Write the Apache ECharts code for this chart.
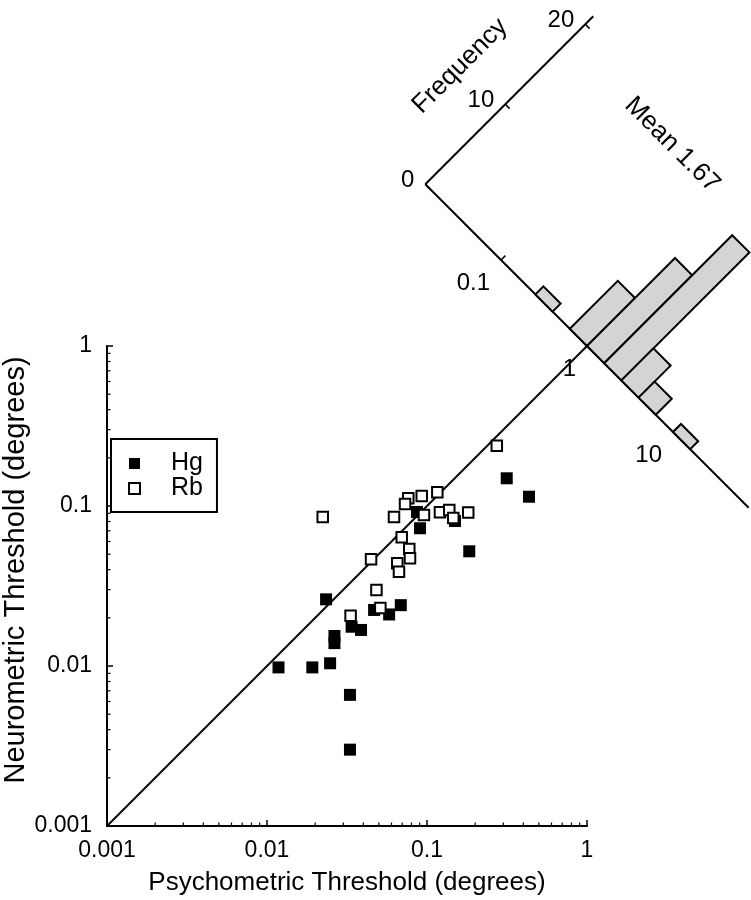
<!DOCTYPE html>
<html><head><meta charset="utf-8">
<script src="https://cdn.jsdelivr.net/npm/echarts@6/dist/echarts.min.js"></script>
<style>html,body{margin:0;padding:0;background:#fff}#c{width:751px;height:900px}</style>
</head><body><div id="c"></div>
<script>
// ---- data ----
const hgX = [0.315, 0.434, 0.0904, 0.1496, 0.1837, 0.0234, 0.0338, 0.0387, 0.0467, 0.058, 0.0686, 0.0264, 0.0264, 0.0118, 0.0192, 0.0248, 0.033, 0.033, 0.0866];
const hgY = [0.149, 0.1143, 0.0726, 0.0806, 0.0521, 0.0261, 0.0176, 0.0168, 0.0224, 0.021, 0.024, 0.0154, 0.0139, 0.0098, 0.0098, 0.0104, 0.0066, 0.003, 0.0918];
const rbX = [0.273, 0.116, 0.0927, 0.0764, 0.0729, 0.0622, 0.0957, 0.1205, 0.1378, 0.146, 0.181, 0.0223, 0.0695, 0.0775, 0.0783, 0.0652, 0.0668, 0.0447, 0.0483, 0.0511, 0.0333];
const rbY = [0.238, 0.122, 0.1155, 0.1117, 0.1029, 0.0853, 0.0879, 0.0914, 0.0944, 0.0841, 0.091, 0.0853, 0.0637, 0.0538, 0.0471, 0.0438, 0.0388, 0.0464, 0.0299, 0.023, 0.0206];
const unityLine = [0.001, 1];
const minorMultipliers = [2, 3, 4, 5, 6, 7, 8, 9];
const minorDecades = [0.001, 0.01, 0.1];
// histogram of log10(psychometric / neurometric) ratio
const histLogEdges = [-0.6, -0.4, -0.2, 0, 0.2, 0.4, 0.6, 0.8, 1.0, 1.2];
const histCounts = [1, 0, 6, 11, 16, 4, 2, 0, 1];
const histTickValues = [0.1, 1, 10];
const histTickLabels = ['0.1', '1', '10'];
const freqTickValues = [0, 10, 20];
const freqTickLabels = ['0', '10', '20'];
const histMeanText = 'Mean 1.67';

// ---- style / geometry ----
const FONT = '"Liberation Sans", Arial, Helvetica, sans-serif';
const H_SCALE = 0.5375;   // main-axis decades per decade of ratio
const F_SCALE = 0.05;     // main-axis decades per count
const H_RANGE = [-1.88, 1.88];
const F_MAX = 21;
function histData(r, c) {
  return [Math.pow(10, H_SCALE * r + F_SCALE * c), Math.pow(10, -H_SCALE * r + F_SCALE * c)];
}

const chart = echarts.init(document.getElementById('c'));
const zip = (a, b) => a.map((v, i) => [v, b[i]]);

const histBars = histCounts.map((c, i) => [histLogEdges[i], histLogEdges[i + 1], c]).filter(d => d[2] > 0);

chart.setOption({
  animation: false,
  backgroundColor: '#fff',
  textStyle: { fontFamily: FONT, color: '#000' },
  grid: { left: 107, right: 164, top: 346, bottom: 74, containLabel: false, outerBoundsMode: 'none' },
  xAxis: {
    type: 'log', logBase: 10, min: 0.001, max: 1,
    name: 'Psychometric Threshold (degrees)', nameLocation: 'middle', nameGap: 44,
    nameTextStyle: { fontSize: 26, fontFamily: FONT, color: '#000' },
    axisLine: { lineStyle: { color: '#000', width: 2 } },
    axisTick: { inside: true, length: 6, lineStyle: { color: '#000', width: 1.5 } },
    axisLabel: { fontSize: 23, fontFamily: FONT, color: '#000', margin: 13 },
    splitLine: { show: false }, minorTick: { show: false }
  },
  yAxis: {
    type: 'log', logBase: 10, min: 0.001, max: 1,
    name: 'Neurometric Threshold (degrees)', nameLocation: 'middle', nameGap: 77, nameMoveOverlap: false,
    nameTextStyle: { fontSize: 29, fontFamily: FONT, color: '#000', padding: [0, 0, 0, 32] },
    axisLine: { lineStyle: { color: '#000', width: 2 } },
    axisTick: { inside: true, length: 6, lineStyle: { color: '#000', width: 1.5 } },
    axisLabel: { fontSize: 23, fontFamily: FONT, color: '#000', margin: 15 },
    splitLine: { show: false }, minorTick: { show: false }
  },
  legend: {
    data: ['Hg', 'Rb'], orient: 'vertical', left: 111, top: 439,
    itemWidth: 11, itemHeight: 11, itemGap: 0,
    padding: [12, 14, 11, 17],
    borderColor: '#000', borderWidth: 2, backgroundColor: '#fff',
    textStyle: { fontSize: 25, fontFamily: FONT, color: '#000', padding: [0, 0, 0, 26] },
    selectedMode: false
  },
  series: [
    {
      type: 'line', data: zip(unityLine, unityLine), showSymbol: false, symbol: 'none',
      lineStyle: { color: '#000', width: 2 }, z: 1, silent: true
    },
    {
      type: 'custom', name: 'minorTicks', data: [[1, 1]], z: 3, silent: true,
      renderItem: (params, api) => {
        const children = [];
        minorDecades.forEach(d => minorMultipliers.forEach(m => {
          const v = d * m;
          const px = api.coord([v, 0.001]);
          children.push({ type: 'line', shape: { x1: px[0], y1: px[1], x2: px[0], y2: px[1] - 3.5 }, style: { stroke: '#000', lineWidth: 1.2 } });
          const py = api.coord([0.001, v]);
          children.push({ type: 'line', shape: { x1: py[0], y1: py[1], x2: py[0] + 3.5, y2: py[1] }, style: { stroke: '#000', lineWidth: 1.2 } });
        }));
        return { type: 'group', children };
      }
    },
    {
      type: 'custom', name: 'histFrame', data: [[1, 1]], z: 2, silent: true,
      renderItem: (params, api) => {
        const P = (r, c) => api.coord(histData(r, c));
        const children = [];
        const a0 = P(H_RANGE[0], 0), a1 = P(H_RANGE[1], 0), f1 = P(H_RANGE[0], F_MAX);
        children.push({ type: 'line', shape: { x1: a0[0], y1: a0[1], x2: a1[0], y2: a1[1] }, style: { stroke: '#000', lineWidth: 2 } });
        children.push({ type: 'line', shape: { x1: a0[0], y1: a0[1], x2: f1[0], y2: f1[1] }, style: { stroke: '#000', lineWidth: 2 } });
        histTickValues.forEach((v, i) => {
          const r = Math.log10(v);
          const p = P(r, 0), q = P(r, 0.55);
          children.push({ type: 'line', shape: { x1: p[0], y1: p[1], x2: q[0], y2: q[1] }, style: { stroke: '#000', lineWidth: 1.5 } });
          children.push({ type: 'text', x: p[0] - 11, y: p[1] + 23, style: { text: histTickLabels[i], fontSize: 24, fontFamily: FONT, fill: '#000', align: 'right', verticalAlign: 'middle' } });
        });
        freqTickValues.forEach((c, i) => {
          const p = P(H_RANGE[0], c), q = P(H_RANGE[0] + 0.05, c);
          children.push({ type: 'line', shape: { x1: p[0], y1: p[1], x2: q[0], y2: q[1] }, style: { stroke: '#000', lineWidth: 1.5 } });
          children.push({ type: 'text', x: p[0] - 11, y: p[1] - 4, style: { text: freqTickLabels[i], fontSize: 24, fontFamily: FONT, fill: '#000', align: 'right', verticalAlign: 'middle' } });
        });
        const fl = P(-2.366, 9.56);
        children.push({ type: 'text', x: fl[0], y: fl[1], rotation: Math.PI / 4, style: { text: 'Frequency', fontSize: 26, fontFamily: FONT, fill: '#000', align: 'center', verticalAlign: 'middle' } });
        const ml = P(-0.698, 17.9);
        children.push({ type: 'text', x: ml[0] + 2, y: ml[1] + 2, rotation: -Math.PI / 4, style: { text: histMeanText, fontSize: 26, fontFamily: FONT, fill: '#000', align: 'center', verticalAlign: 'middle' } });
        return { type: 'group', children };
      }
    },
    {
      type: 'custom', name: 'histogram', data: histBars, z: 4, silent: true,
      dimensions: ['lo', 'hi', 'count'], encode: { x: 2, y: 2 },
      renderItem: (params, api) => {
        const lo = api.value(0), hi = api.value(1), c = api.value(2);
        const pts = [[lo, 0], [lo, c], [hi, c], [hi, 0]].map(p => api.coord(histData(p[0], p[1])));
        return { type: 'polygon', shape: { points: pts }, style: { fill: '#d4d4d4', stroke: '#000', lineWidth: 2 } };
      }
    },
    {
      type: 'scatter', name: 'Hg', data: zip(hgX, hgY), symbol: 'rect', symbolSize: 12, z: 5,
      itemStyle: { color: '#000', opacity: 1 }
    },
    {
      type: 'scatter', name: 'Rb', data: zip(rbX, rbY), symbol: 'rect', symbolSize: 10.5, z: 6,
      itemStyle: { color: '#fff', borderColor: '#000', borderWidth: 2, opacity: 1 }
    }
  ]
});
</script>
</body></html>
